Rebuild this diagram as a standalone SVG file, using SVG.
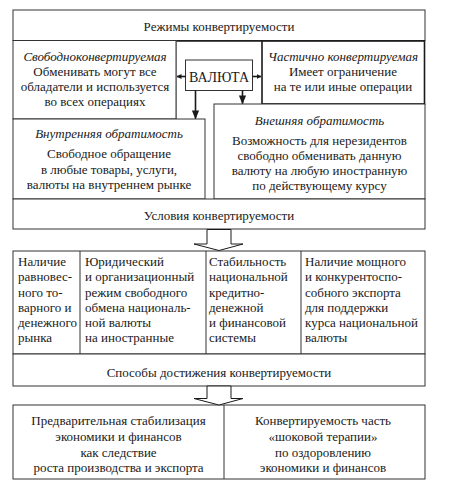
<svg xmlns="http://www.w3.org/2000/svg" width="453" height="489" viewBox="0 0 453 489" font-family="'Liberation Serif', 'Times New Roman', serif">
<defs>
<style>
text{font-family:'Liberation Serif','Times New Roman',serif;font-size:13px;fill:#1a1a1a}
.c{text-anchor:middle}
.i{font-style:italic}
.v{font-size:14px}
.box{fill:#fff;stroke:#333;stroke-width:1}
.bold{fill:#fff;stroke:#1a1a1a;stroke-width:1.6}
.ln{stroke:#1a1a1a;stroke-width:1.6;fill:none}
.hol{fill:#fff;stroke:#1a1a1a;stroke-width:1}
</style>
<marker id="ah" viewBox="0 0 10 10" refX="9" refY="5" markerWidth="5" markerHeight="5" orient="auto-start-reverse" markerUnits="userSpaceOnUse">
<path d="M0,0 L10,5 L0,10 Z" fill="#1a1a1a"/>
</marker>
<marker id="ahd" viewBox="0 0 10 10" refX="9" refY="5" markerWidth="9" markerHeight="9" orient="auto" markerUnits="userSpaceOnUse">
<path d="M0,1 L10,5 L0,9 Z" fill="#1a1a1a"/>
</marker>
</defs>
<rect width="453" height="489" fill="#fff"/>

<g id="title">
<rect class="box" x="13" y="10" width="412" height="30.5"/>
<text class="c" x="219" y="31">Режимы конвертируемости</text>
</g>

<g id="middle">
<path class="ln" d="M176,41 H262"/>
<path d="M176,40.5 V119" stroke="#777" stroke-width="1.2" fill="none"/>
</g>

<g id="free">
<rect class="box" x="13" y="40.5" width="163" height="78.5"/>
<text class="c i" x="95" y="61">Свободноконвертируемая</text>
<text class="c" x="95" y="76">Обменивать могут все</text>
<text class="c" x="95" y="91">обладатели и используется</text>
<text class="c" x="95" y="106">во всех операциях</text>
</g>

<g id="partial">
<rect class="bold" x="262" y="41" width="162.5" height="63"/>
<text class="c i" x="343" y="61">Частично конвертируемая</text>
<text class="c" x="343" y="76">Имеет ограничение</text>
<text class="c" x="343" y="91">на те или иные операции</text>
</g>

<g id="valuta">
<rect class="box" x="185.5" y="60" width="67" height="30.5" stroke-width="1.2"/>
<text class="c v" x="219" y="81.5">ВАЛЮТА</text>
</g>

<g id="internal">
<rect class="box" x="13" y="119" width="192" height="80"/>
<text class="c i" x="109" y="138">Внутренняя обратимость</text>
<text class="c" x="109" y="158">Свободное обращение</text>
<text class="c" x="109" y="174">в любые товары, услуги,</text>
<text class="c" x="109" y="189">валюты на внутреннем рынке</text>
</g>

<g id="external">
<rect class="box" x="214" y="104" width="211" height="95"/>
<text class="c i" x="319.5" y="125">Внешняя обратимость</text>
<text class="c" x="319.5" y="145">Возможность для нерезидентов</text>
<text class="c" x="319.5" y="160">свободно обменивать данную</text>
<text class="c" x="319.5" y="175">валюту на любую иностранную</text>
<text class="c" x="319.5" y="190">по действующему курсу</text>
</g>

<g id="conditions">
<rect class="box" x="13" y="199" width="412" height="30"/>
<text class="c" x="219" y="220">Условия конвертируемости</text>
</g>

<g id="conditions-list">
<rect class="box" x="13" y="251" width="412" height="103"/>
<path d="M80,251 V354 M206,251 V354 M301,251 V354" stroke="#333" stroke-width="1" fill="none"/>
<text x="18" y="266">Наличие</text>
<text x="18" y="281">равновес-</text>
<text x="18" y="296.5">ного то-</text>
<text x="18" y="311.5">варного и</text>
<text x="18" y="327">денежного</text>
<text x="18" y="342">рынка</text>
<text x="85" y="266">Юридический</text>
<text x="85" y="281">и организационный</text>
<text x="85" y="296.5">режим свободного</text>
<text x="85" y="311.5">обмена националь-</text>
<text x="85" y="327">ной валюты</text>
<text x="85" y="342">на иностранные</text>
<text x="209" y="266">Стабильность</text>
<text x="209" y="281">национальной</text>
<text x="209" y="296.5">кредитно-</text>
<text x="209" y="311.5">денежной</text>
<text x="209" y="327">и финансовой</text>
<text x="209" y="342">системы</text>
<text x="305" y="266">Наличие мощного</text>
<text x="305" y="281">и конкурентоспо-</text>
<text x="305" y="296.5">собного экспорта</text>
<text x="305" y="311.5">для поддержки</text>
<text x="305" y="327">курса национальной</text>
<text x="305" y="342">валюты</text>
</g>

<g id="methods">
<rect class="box" x="13" y="354" width="412" height="32"/>
<text class="c" x="219" y="377">Способы достижения конвертируемости</text>
</g>

<g id="methods-list">
<rect class="box" x="13" y="405" width="412" height="74"/>
<path d="M224,405 V479" stroke="#333" stroke-width="1" fill="none"/>
<text class="c" x="118.5" y="425">Предварительная стабилизация</text>
<text class="c" x="118.5" y="441">экономики и финансов</text>
<text class="c" x="118.5" y="457">как следствие</text>
<text class="c" x="118.5" y="472">роста производства и экспорта</text>
<text class="c" x="323" y="425">Конвертируемость часть</text>
<text class="c" x="323" y="441">«шоковой терапии»</text>
<text class="c" x="323" y="457">по оздоровлению</text>
<text class="c" x="323" y="472">экономики и финансов</text>
</g>

<g id="connectors">
<line class="ln" x1="185.5" y1="76.5" x2="177" y2="76.5" stroke-width="1.4" marker-end="url(#ah)"/>
<line class="ln" x1="252.5" y1="76.5" x2="261" y2="76.5" stroke-width="1.4" marker-end="url(#ah)"/>
<line class="ln" x1="195.5" y1="90.5" x2="195.5" y2="118.5" stroke-width="1.6" marker-end="url(#ahd)"/>
<line class="ln" x1="242.5" y1="90.5" x2="242.5" y2="103.5" stroke-width="1.6" marker-end="url(#ahd)"/>
<polygon class="hol" points="207,229.5 231,229.5 231,244 243,244 219,250.5 194,244 207,244"/>
<polygon class="hol" points="207,386 231,386 231,398.5 243,398.5 219,405 194,398.5 207,398.5"/>
</g>
</svg>
